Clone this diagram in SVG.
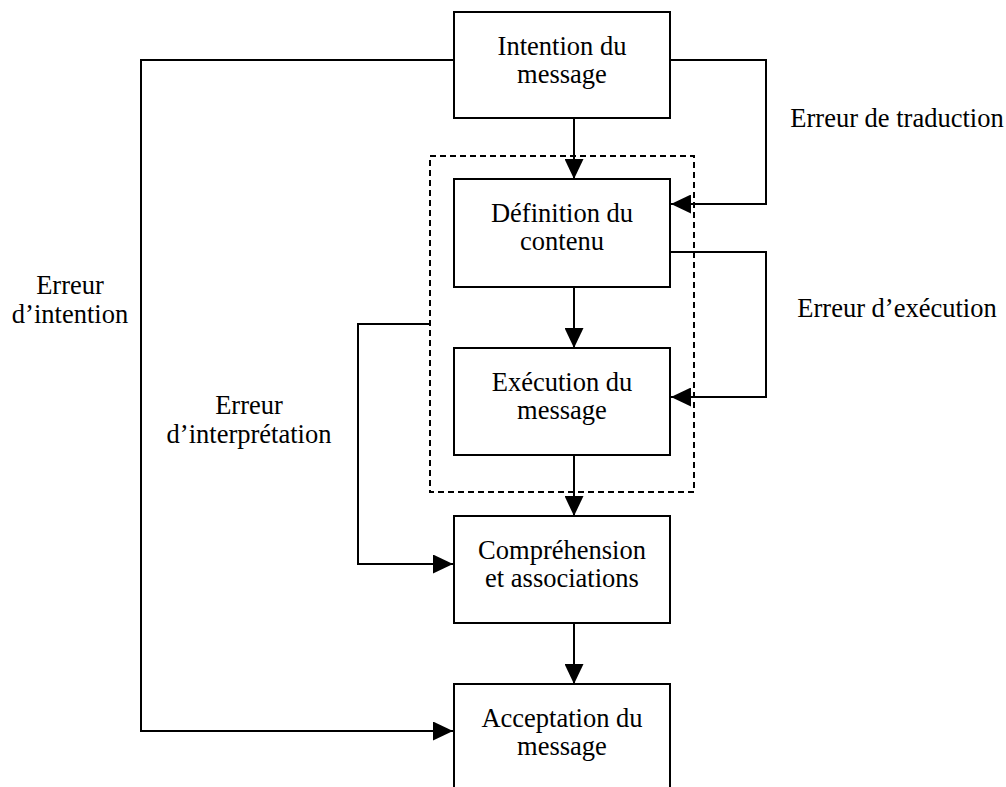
<svg xmlns="http://www.w3.org/2000/svg" width="1006" height="787" viewBox="0 0 1006 787">
<style>
.box{fill:#fff;stroke:#000;stroke-width:2}
.t{font-size:26.5px;fill:#000;text-anchor:middle}
.c{fill:none;stroke:#000;stroke-width:2}
.dash{fill:none;stroke:#000;stroke-width:2;stroke-dasharray:6 4}
</style>
<defs>
<marker id="ah" viewBox="0 0 20 19" refX="20" refY="9.5" markerWidth="20" markerHeight="19" markerUnits="userSpaceOnUse" orient="auto">
<path d="M0 0 L20 9.5 L0 19 Z" fill="#000"/>
</marker>
</defs>
<rect width="1006" height="787" fill="#fff"/>
<g font-family="Liberation Serif, Times New Roman, DejaVu Serif, serif">
<g id="group-frame">
<rect class="dash" x="430" y="156" width="264" height="336"/>
</g>
<g id="node-intention">
<rect class="box" x="454" y="12" width="216" height="106"/>
<text class="t" x="562" y="55">Intention du</text>
<text class="t" x="562" y="83">message</text>
</g>
<g id="node-definition">
<rect class="box" x="454" y="179" width="216" height="108"/>
<text class="t" x="562" y="222">Définition du</text>
<text class="t" x="562" y="250">contenu</text>
</g>
<g id="node-execution">
<rect class="box" x="454" y="348" width="216" height="107"/>
<text class="t" x="562" y="391">Exécution du</text>
<text class="t" x="562" y="419">message</text>
</g>
<g id="node-comprehension">
<rect class="box" x="454" y="516" width="216" height="107"/>
<text class="t" x="562" y="559">Compréhension</text>
<text class="t" x="562" y="587">et associations</text>
</g>
<g id="node-acceptation">
<rect class="box" x="454" y="684" width="216" height="140"/>
<text class="t" x="562" y="727">Acceptation du</text>
<text class="t" x="562" y="755">message</text>
</g>
<g id="connectors">
<path class="c" d="M574 118 V179" marker-end="url(#ah)"/>
<path class="c" d="M574 287 V348" marker-end="url(#ah)"/>
<path class="c" d="M574 455 V516" marker-end="url(#ah)"/>
<path class="c" d="M574 623 V684" marker-end="url(#ah)"/>
<path class="c" d="M670 60 H766 V204 H671" marker-end="url(#ah)"/>
<path class="c" d="M670 252 H766 V397 H671" marker-end="url(#ah)"/>
<path class="c" d="M430 324 H358 V564 H453" marker-end="url(#ah)"/>
<path class="c" d="M454 60 H141 V731 H453" marker-end="url(#ah)"/>
</g>
<g id="labels">
<text class="t" x="897" y="127">Erreur de traduction</text>
<text class="t" x="897" y="317">Erreur d’exécution</text>
<text class="t" x="70" y="294">Erreur</text>
<text class="t" x="70" y="323">d’intention</text>
<text class="t" x="249" y="414">Erreur</text>
<text class="t" x="249" y="443">d’interprétation</text>
</g>
</g>
</svg>
